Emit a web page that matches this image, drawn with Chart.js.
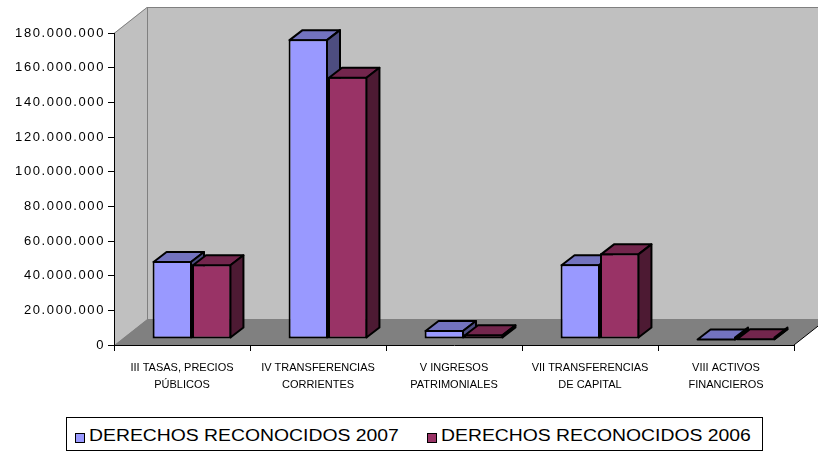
<!DOCTYPE html>
<html>
<head>
<meta charset="utf-8">
<script src="https://cdn.jsdelivr.net/npm/chart.js@4.4.0/dist/chart.umd.min.js"></script>
<style>
  body { margin: 0; background: #fff; }
  #wrap { position: relative; width: 818px; height: 457px; overflow: hidden; }
  #legend-box { position: absolute; left: 66px; top: 417px; width: 697px; height: 34px; box-sizing: border-box; border: 1px solid #000; background: #fff; }
  .swatch { position: absolute; width: 8px; height: 8px; border: 1px solid #000; top: 433px; }
  .legend-text { position: absolute; top: 428px; font-family: 'Liberation Sans', Arial, sans-serif; font-size: 16px; line-height: 16px; color: #000; white-space: nowrap; transform: scaleX(1.21); transform-origin: 0 0; }
</style>
</head>
<body>
<div id="wrap">
  <canvas id="chart" width="818" height="457"></canvas>
  <div id="legend-box"></div>
  <div class="swatch" style="left:75px;background:#9999ff"></div>
  <div class="legend-text" style="left:89px">DERECHOS RECONOCIDOS 2007</div>
  <div class="swatch" style="left:427px;background:#993366"></div>
  <div class="legend-text" style="left:441px">DERECHOS RECONOCIDOS 2006</div>
</div>
<script>
const categories = [
  ['III TASAS, PRECIOS', 'PÚBLICOS'],
  ['IV TRANSFERENCIAS', 'CORRIENTES'],
  ['V INGRESOS', 'PATRIMONIALES'],
  ['VII TRANSFERENCIAS', 'DE CAPITAL'],
  ['VIII ACTIVOS', 'FINANCIEROS']
];
const derechos2007 = [45000000, 173000000, 5200000, 43100000, 300000];
const derechos2006 = [43100000, 151300000, 2700000, 49400000, 400000];
const yMax = 180000000;
const yStep = 20000000;

const FONT = 'Liberation Sans';
const WALL = { x: 33, y: -26 };       // depth of the walls/floor
const SHIFT = { x: 10, y: -6 };       // bars sit half way back
const BAR_DEPTH = { x: 13, y: -10 };

function shade(hex, f) {
  const n = parseInt(hex.slice(1), 16);
  const r = Math.round(((n >> 16) & 255) * f);
  const g = Math.round(((n >> 8) & 255) * f);
  const b = Math.round((n & 255) * f);
  return 'rgb(' + r + ',' + g + ',' + b + ')';
}

function poly(ctx, pts, fill, stroke, lw) {
  ctx.beginPath();
  ctx.moveTo(pts[0][0], pts[0][1]);
  for (let i = 1; i < pts.length; i++) ctx.lineTo(pts[i][0], pts[i][1]);
  ctx.closePath();
  if (fill) { ctx.fillStyle = fill; ctx.fill(); }
  if (stroke) { ctx.strokeStyle = stroke; ctx.lineWidth = lw || 1; ctx.stroke(); }
}

const walls = {
  id: 'walls',
  beforeDraw(chart) {
    const ctx = chart.ctx, a = chart.chartArea;
    const dx = WALL.x, dy = WALL.y;
    ctx.save();
    // back wall
    poly(ctx, [[a.left + dx, a.top + dy], [a.right + dx, a.top + dy], [a.right + dx, a.bottom + dy], [a.left + dx, a.bottom + dy]], '#c0c0c0');
    // side wall
    poly(ctx, [[a.left, a.top], [a.left + dx, a.top + dy], [a.left + dx, a.bottom + dy], [a.left, a.bottom]], '#c0c0c0');
    // floor
    poly(ctx, [[a.left, a.bottom], [a.left + dx, a.bottom + dy], [a.right + dx, a.bottom + dy], [a.right, a.bottom]], '#808080');
    ctx.strokeStyle = '#808080';
    ctx.lineWidth = 1;
    ctx.beginPath();
    ctx.moveTo(a.left, a.top + 0.5);
    ctx.lineTo(a.left + dx, a.top + dy + 0.5);
    ctx.lineTo(a.right + dx, a.top + dy + 0.5);
    ctx.moveTo(a.left + dx + 0.5, a.top + dy);
    ctx.lineTo(a.left + dx + 0.5, a.bottom + dy);
    ctx.stroke();
    ctx.strokeStyle = '#000';
    ctx.beginPath();
    ctx.moveTo(a.right, a.bottom);
    ctx.lineTo(a.right + dx, a.bottom + dy);
    ctx.stroke();
    ctx.restore();
    // y tick labels are drawn wide in the original
    ctx.letterSpacing = '1.6px';
  }
};

function drawFaces(chart, index) {
  const ctx = chart.ctx;
  const ds = chart.data.datasets[index];
  const meta = chart.getDatasetMeta(index);
  const inset = ds.borderWidth / 2;
  meta.data.forEach(function (bar) {
    const p = bar.getProps(['x', 'y', 'base', 'width']);
    const l = p.x - p.width / 2 + inset, r = p.x + p.width / 2 - inset;
    const top = Math.min(p.y, p.base) + inset, bottom = Math.max(p.y, p.base) - inset;
    const dx = BAR_DEPTH.x, dy = BAR_DEPTH.y;
    ctx.lineJoin = 'round';
    poly(ctx, [[l, top], [l + dx, top + dy], [r + dx, top + dy], [r, top]], shade(ds.backgroundColor, 0.75), '#000', ds.borderWidth);
    poly(ctx, [[r, top], [r + dx, top + dy], [r + dx, bottom + dy], [r, bottom]], shade(ds.backgroundColor, 0.5), '#000', ds.borderWidth);
  });
}

const bars3d = {
  id: 'bars3d',
  beforeDatasetsDraw(chart) {
    chart.ctx.save();
    chart.ctx.translate(SHIFT.x, SHIFT.y);
    drawFaces(chart, 0);
  },
  afterDatasetsDraw(chart) {
    drawFaces(chart, 1);
    chart.ctx.restore();
    chart.ctx.letterSpacing = '0px';
  }
};

function dots(v) {
  return String(v).replace(/\B(?=(\d{3})+(?!\d))/g, '.');
}

new Chart(document.getElementById('chart').getContext('2d'), {
  type: 'bar',
  data: {
    labels: categories,
    datasets: [{
      label: 'DERECHOS RECONOCIDOS 2007',
      data: derechos2007,
      backgroundColor: '#9999ff',
      borderColor: '#000',
      borderWidth: 2,
      borderSkipped: false
    }, {
      label: 'DERECHOS RECONOCIDOS 2006',
      data: derechos2006,
      backgroundColor: '#993366',
      borderColor: '#000',
      borderWidth: 2,
      borderSkipped: false
    }]
  },
  options: {
    responsive: false,
    animation: false,
    layout: { padding: { left: 0, top: 33, right: 24, bottom: 62 } },
    datasets: { bar: { categoryPercentage: 0.58, barPercentage: 1 } },
    plugins: { legend: { display: false }, tooltip: { enabled: false } },
    scales: {
      x: {
        grid: { display: true, drawOnChartArea: false, color: '#000', tickLength: 6, offset: true },
        border: { color: '#000', width: 1 },
        // z 1: labels drawn after the bars, once the wide spacing is reset
        ticks: { z: 1, color: '#000', font: { family: FONT, size: 11, lineHeight: 1.5 }, padding: 9, maxRotation: 0, autoSkip: false },
        afterFit: function (scale) { scale.height = 50; }
      },
      y: {
        min: 0,
        max: yMax,
        grid: { drawOnChartArea: false, color: '#000', tickLength: 6 },
        border: { color: '#000', width: 1 },
        ticks: { stepSize: yStep, color: '#000', font: { family: FONT, size: 13 }, padding: 3, callback: dots },
        afterFit: function (scale) { scale.width = 114; }
      }
    }
  },
  plugins: [walls, bars3d]
});
</script>
</body>
</html>
